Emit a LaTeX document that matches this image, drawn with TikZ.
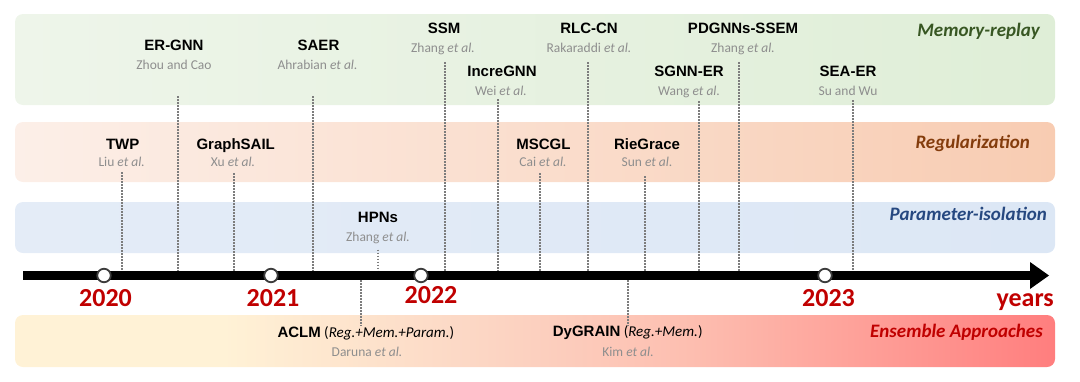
\documentclass[tikz,border=0pt]{standalone}
\usepackage{fontspec}
\setmainfont{Carlito}
\newfontfamily\arialfont{Liberation Sans}
\usepackage{xcolor}
\usepackage{tikz}
\usetikzlibrary{arrows.meta, calc}

\definecolor{memleft}{RGB}{238,245,234}
\definecolor{memright}{RGB}{223,238,215}
\definecolor{regleft}{RGB}{252,239,232}
\definecolor{regright}{RGB}{248,204,178}
\definecolor{parleft}{RGB}{228,236,247}
\definecolor{parright}{RGB}{220,231,245}
\definecolor{ensA}{RGB}{255,242,214}
\definecolor{ensB}{RGB}{252,214,196}
\definecolor{ensC}{RGB}{253,190,176}
\definecolor{ensD}{RGB}{255,126,126}
\definecolor{memgreen}{RGB}{56,87,35}
\definecolor{regbrown}{RGB}{132,60,12}
\definecolor{parblue}{RGB}{38,72,128}
\definecolor{ensred}{RGB}{192,0,0}
\definecolor{yearred}{RGB}{192,0,0}
\definecolor{authorgray}{RGB}{142,142,142}
\definecolor{guidegray}{RGB}{125,125,125}
\definecolor{markgray}{RGB}{60,60,60}

\pgfdeclarehorizontalshading{ensembleshade}{100bp}{color(0bp)=(ensA); color(25bp)=(ensA); color(35bp)=(ensA); color(47.5bp)=(ensB); color(57.5bp)=(ensC); color(75bp)=(ensD); color(100bp)=(ensD)}

\tikzset{
  band/.style={rounded corners=8pt},
  papername/.style={font=\arialfont\bfseries\fontsize{15}{18}\selectfont, anchor=base, inner sep=0pt},
  paperauthor/.style={font=\fontsize{13.5}{16}\selectfont, text=authorgray, anchor=base, inner sep=0pt},
  ensemblename/.style={font=\fontsize{15}{18}\selectfont, anchor=base west, inner sep=0pt},
  category/.style={font=\bfseries\itshape\fontsize{19}{22}\selectfont, anchor=base east, inner sep=0pt},
  yearlabel/.style={font=\bfseries\fontsize{26}{30}\selectfont, text=yearred, anchor=base, inner sep=0pt},
  yearmark/.style={circle, draw=markgray, fill=white, line width=1.8pt, minimum size=13.5pt, inner sep=0pt},
  guide/.style={draw=guidegray, line width=2pt, dash pattern=on 1.6pt off 1.4pt},
}

\begin{document}
\begin{tikzpicture}[x=1pt, y=-1pt, >=Stealth]
    \useasboundingbox (0,0) rectangle (1080,381);

    % bands
    \shade[band, left color=memleft, right color=memright] (15,14) rectangle (1055,105);
    \shade[band, left color=regleft, right color=regright] (15,122) rectangle (1055,182);
    \shade[band, left color=parleft, right color=parright] (15,202) rectangle (1055,253);
    \shade[band, shading=ensembleshade] (15,315) rectangle (1055,367);

    % category labels
    \node[category, text=memgreen] (memlabel) at (1040,36) {Memory-replay};
    \node[category, text=regbrown] (reglabel) at (1030,148.5) {Regularization};
    \node[category, text=parblue] (parlabel) at (1047,220) {Parameter-isolation};
    \node[category, text=ensred] (enslabel) at (1043,337.5) {Ensemble Approaches};

    % memory-replay methods
    \node[papername] (ergnn) at (174,50.5) {ER-GNN};
    \node[paperauthor] (zhou) at (174,69) {Zhou and Cao};
    \node[papername] (saer) at (318.5,50.5) {SAER};
    \node[paperauthor] (ahrabian) at (317.5,69) {Ahrabian \textit{et al.}};
    \node[papername] (ssm) at (444,33.5) {SSM};
    \node[paperauthor] (zhangssm) at (443,52) {Zhang \textit{et al.}};
    \node[papername] (incregnn) at (502,76.5) {IncreGNN};
    \node[paperauthor] (wei) at (501,95) {Wei \textit{et al.}};
    \node[papername] (rlccn) at (589,33.5) {RLC-CN};
    \node[paperauthor] (rakaraddi) at (589,52) {Rakaraddi \textit{et al.}};
    \node[papername] (sgnner) at (689,76.5) {SGNN-ER};
    \node[paperauthor] (wang) at (689,95) {Wang \textit{et al.}};
    \node[papername] (pdgnns) at (743,33.5) {PDGNNs-SSEM};
    \node[paperauthor] (zhangpd) at (743,52) {Zhang \textit{et al.}};
    \node[papername] (seaer) at (848,76.5) {SEA-ER};
    \node[paperauthor] (su) at (848,95) {Su and Wu};

    % regularization methods
    \node[papername] (twp) at (122.7,149.3) {TWP};
    \node[paperauthor] (liu) at (121.7,166) {Liu \textit{et al.}};
    \node[papername] (graphsail) at (235.7,149.3) {GraphSAIL};
    \node[paperauthor] (xu) at (233,166) {Xu \textit{et al.}};
    \node[papername] (mscgl) at (543.4,149.3) {MSCGL};
    \node[paperauthor] (cai) at (543,166) {Cai \textit{et al.}};
    \node[papername] (riegrace) at (647,149.3) {RieGrace};
    \node[paperauthor] (sun) at (647,166) {Sun \textit{et al.}};

    % parameter-isolation methods
    \node[papername] (hpns) at (378,222.3) {HPNs};
    \node[paperauthor] (zhanghp) at (378,241.7) {Zhang \textit{et al.}};

    % ensemble methods
    \node[ensemblename] (aclm) at (277.3,337.3) {{\arialfont\bfseries ACLM} (\textit{Reg.+Mem.+Param.})};
    \node[paperauthor] (daruna) at (367,356) {Daruna \textit{et al.}};
    \node[ensemblename] (dygrain) at (552.7,336.7) {{\arialfont\bfseries DyGRAIN} (\textit{Reg.+Mem.})};
    \node[paperauthor] (kim) at (628,356) {Kim \textit{et al.}};

    % ticks on the timeline
    \coordinate (tk-twp) at (121.7,271);
    \coordinate (tk-ergnn) at (177.7,271);
    \coordinate (tk-graphsail) at (234,271);
    \coordinate (tk-saer) at (312.7,271);
    \coordinate (tk-hpns) at (378,271);
    \coordinate (tk-ssm) at (445,271);
    \coordinate (tk-incregnn) at (497.5,271);
    \coordinate (tk-mscgl) at (540.3,271);
    \coordinate (tk-rlccn) at (588.2,271);
    \coordinate (tk-riegrace) at (645,271);
    \coordinate (tk-sgnner) at (699,271);
    \coordinate (tk-pdgnns) at (738.7,271);
    \coordinate (tk-seaer) at (852.7,271);
    \coordinate (tk-aclm) at (360.7,280);
    \coordinate (tk-dygrain) at (628.3,280);

    % dotted guides
    \draw[guide] ($(tk-twp |- liu.base)+(0,6)$) -- (tk-twp);
    \draw[guide] ($(tk-ergnn |- zhou.base)+(0,27)$) -- (tk-ergnn);
    \draw[guide] ($(tk-graphsail |- xu.base)+(0,7)$) -- (tk-graphsail);
    \draw[guide] ($(tk-saer |- ahrabian.base)+(0,27)$) -- (tk-saer);
    \draw[guide] ($(tk-hpns |- zhanghp.base)+(0,8)$) -- (tk-hpns);
    \draw[guide] ($(tk-ssm |- zhangssm.base)+(0,10)$) -- (tk-ssm);
    \draw[guide] ($(tk-incregnn |- wei.base)+(0,4)$) -- (tk-incregnn);
    \draw[guide] ($(tk-mscgl |- cai.base)+(0,7)$) -- (tk-mscgl);
    \draw[guide] ($(tk-rlccn |- rakaraddi.base)+(0,10)$) -- (tk-rlccn);
    \draw[guide] ($(tk-riegrace |- sun.base)+(0,10)$) -- (tk-riegrace);
    \draw[guide] ($(tk-sgnner |- wang.base)+(0,6)$) -- (tk-sgnner);
    \draw[guide] ($(tk-pdgnns |- zhangpd.base)+(0,10)$) -- (tk-pdgnns);
    \draw[guide] ($(tk-seaer |- su.base)+(0,5)$) -- (tk-seaer);
    \draw[guide] (tk-aclm) -- (tk-aclm |- aclm.north);
    \draw[guide] (tk-dygrain) -- (tk-dygrain |- dygrain.north);

    % timeline
    \coordinate (axisstart) at (23,275.5);
    \coordinate (axisend) at (1049,275.5);
    \draw[line width=9pt, -{Triangle[length=19pt, width=27pt, line width=0pt]}] (axisstart) -- (axisend);

    % years
    \node[yearmark] (m2020) at (104,275.5) {};
    \node[yearmark] (m2021) at (271,275.5) {};
    \node[yearmark] (m2022) at (421,275.5) {};
    \node[yearmark] (m2023) at (825,275.5) {};
    \node[yearlabel] (y2020) at (105.5,306) {2020};
    \node[yearlabel] (y2021) at (273,306) {2021};
    \node[yearlabel] (y2022) at (431,303.5) {2022};
    \node[yearlabel] (y2023) at (828.5,306) {2023};
    \node[yearlabel, anchor=base east] (years) at (1054,306) {years};
\end{tikzpicture}
\end{document}
